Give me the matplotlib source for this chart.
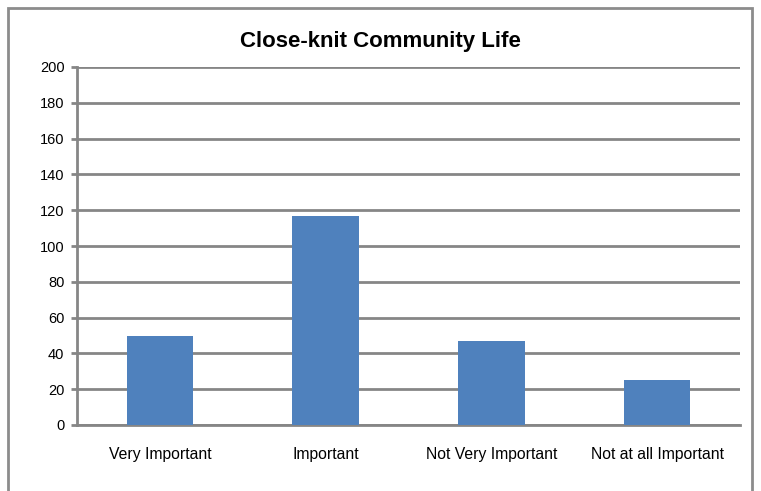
import matplotlib
matplotlib.use("Agg")
import matplotlib.pyplot as plt
from matplotlib.patches import Rectangle

categories = ["Very Important", "Important", "Not Very Important", "Not at all Important"]
counts = [50, 117, 47, 25]
yticks = list(range(0, 201, 20))

plt.rcParams['font.family'] = ['Liberation Sans', 'DejaVu Sans']

fig = plt.figure(figsize=(7.61, 4.91), dpi=100)
W, H = 761, 491
ax = fig.add_axes([77 / W, 1 - 425 / H, (740 - 77) / W, (425 - 67) / H])

grid_c = '#868686'
ax.bar(range(len(categories)), counts, width=0.4, color='#4F81BD', zorder=3)
ax.set_xlim(-0.5, len(categories) - 0.5)
ax.set_ylim(0, 200)
ax.set_yticks(yticks)
ax.set_xticks(range(len(categories)))
ax.set_xticklabels(categories, fontsize=11.3)
ax.tick_params(axis='y', labelsize=10.5, length=4, width=2, color=grid_c, pad=5)
ax.tick_params(axis='x', length=0, pad=16)
ax.grid(axis='y', color=grid_c, linewidth=2, zorder=0)
for s in ['top', 'right']:
    ax.spines[s].set_visible(False)
for s in ['left', 'bottom']:
    ax.spines[s].set_color(grid_c)
    ax.spines[s].set_linewidth(2)

fig.text(0.5, 1 - 42 / H, "Close-knit Community Life", ha='center', va='center',
         fontsize=16, fontweight='bold')

# outer chart border
fig.patches.append(Rectangle((8 / W, -0.05), (752 - 8) / W, 1.05 - 8 / H,
                             transform=fig.transFigure, fill=False,
                             edgecolor='#8c8c8c', linewidth=2))

fig.savefig("out.png", dpi=100)
